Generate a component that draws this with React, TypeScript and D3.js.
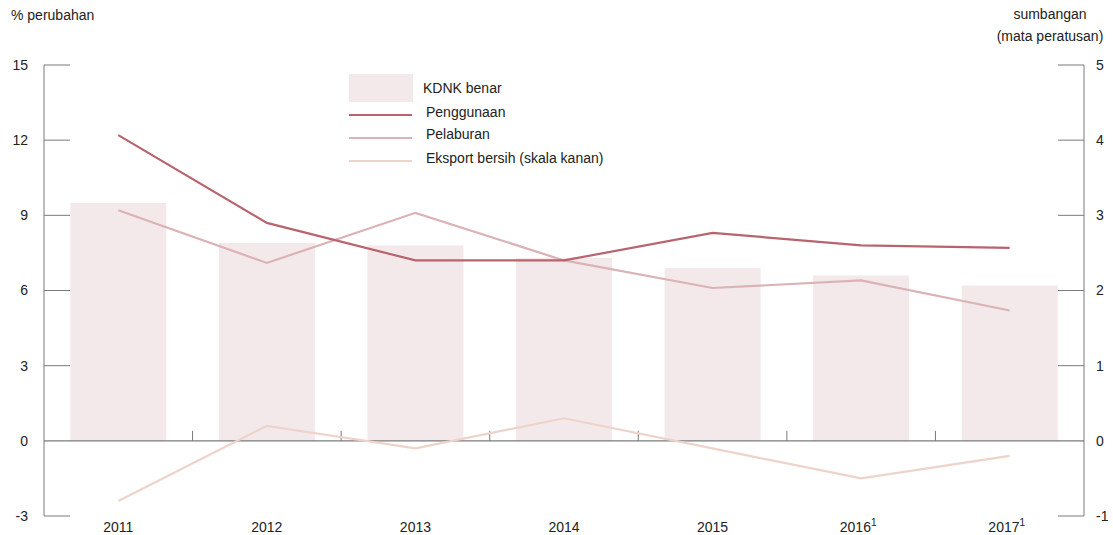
import React from "react";
import * as d3 from "d3";

const categories = ["2011", "2012", "2013", "2014", "2015", "2016", "2017"];
const categorySup = ["", "", "", "", "", "1", "1"];
const kdnk = [9.5, 7.9, 7.8, 7.3, 6.9, 6.6, 6.2];
const penggunaan = [12.2, 8.7, 7.2, 7.2, 8.3, 7.8, 7.7];
const pelaburan = [9.2, 7.1, 9.1, 7.2, 6.1, 6.4, 5.2];
const eksport = [-0.8, 0.2, -0.1, 0.3, -0.1, -0.5, -0.2];
const leftTicks = [-3, 0, 3, 6, 9, 12, 15];
const rightTicks = [-1, 0, 1, 2, 3, 4, 5];

const W = 1113;
const H = 535;
const X0 = 44;
const X1 = 1084;
const YT = 65;
const YB = 516;
const FONT = "'Liberation Sans Narrow', 'Arial Narrow', 'Liberation Sans', Arial, sans-serif";
const AXIS = "#7a7a7a";
const C_BAR = "#f4e9ea";
const C_PENG = "#b8646e";
const C_PEL = "#dbb2b5";
const C_EKS = "#eed3ca";

export default function App() {
  const x = d3.scaleBand<string>().domain(categories).range([X0, X1]).paddingInner(0.354).paddingOuter(0.177);
  const xb = d3.scaleBand<string>().domain(categories).range([X0, X1]);
  const yL = d3.scaleLinear().domain([-3, 15]).range([YB, YT]);
  const yR = d3.scaleLinear().domain([-1, 5]).range([YB, YT]);
  const cx = (c: string) => (xb(c) as number) + xb.bandwidth() / 2;

  const lineL = d3.line<number>().x((_, i) => cx(categories[i])).y((d) => yL(d));
  const lineR = d3.line<number>().x((_, i) => cx(categories[i])).y((d) => yR(d));

  const legendItems = [
    { label: "Penggunaan", color: C_PENG, y: 115, ty: 117 },
    { label: "Pelaburan", color: C_PEL, y: 138, ty: 139 },
    { label: "Eksport bersih (skala kanan)", color: C_EKS, y: 161, ty: 163 },
  ];

  return (
    <svg width={W} height={H} style={{ display: "block", position: "absolute", left: 0, top: 0 }} fontFamily={FONT} fontSize={14}>
      {categories.map((c, i) => (
        <rect key={c} x={cx(c) - 48} y={yL(kdnk[i])} width={96} height={yL(0) - yL(kdnk[i])} fill={C_BAR} />
      ))}
      {/* axes */}
      <line x1={X0} x2={X0} y1={YT} y2={YB} stroke={AXIS} strokeWidth={1} />
      <line x1={X1} x2={X1} y1={YT} y2={YB} stroke={AXIS} strokeWidth={1} />
      <line x1={X0} x2={X1} y1={yL(0)} y2={yL(0)} stroke={AXIS} strokeWidth={1.3} />
      {leftTicks.map((t) => (
        <g key={"l" + t}>
          {t !== 0 && <line x1={X0} x2={X0 + 26} y1={yL(t)} y2={yL(t)} stroke={AXIS} />}
          <text x={28} y={yL(t)} dy="0.35em" textAnchor="end" fill="#222">{t}</text>
        </g>
      ))}
      {rightTicks.map((t) => (
        <g key={"r" + t}>
          {t !== 0 && <line x1={X1 - 26} x2={X1} y1={yR(t)} y2={yR(t)} stroke={AXIS} />}
          <text x={1096} y={yR(t)} dy="0.35em" textAnchor="start" fill="#222">{t}</text>
        </g>
      ))}
      {categories.slice(1).map((c) => (
        <line key={"bt" + c} x1={xb(c) as number} x2={xb(c) as number} y1={yL(0)} y2={yL(0) - 10} stroke={AXIS} />
      ))}
      {categories.map((c, i) => (
        <text key={"xl" + c} x={cx(c) + (categorySup[i] ? -3 : 0)} y={532} textAnchor="middle" fill="#222">
          {c}
          {categorySup[i] && <tspan fontSize={10} dy={-6}>{categorySup[i]}</tspan>}
        </text>
      ))}
      {/* lines */}
      <path d={lineR(eksport) as string} fill="none" stroke={C_EKS} strokeWidth={2.2} />
      <path d={lineL(pelaburan) as string} fill="none" stroke={C_PEL} strokeWidth={2.2} />
      <path d={lineL(penggunaan) as string} fill="none" stroke={C_PENG} strokeWidth={2.2} />
      {/* titles */}
      <text x={11} y={20} fill="#222">% perubahan</text>
      <text x={1050} y={19} textAnchor="middle" fill="#222">sumbangan</text>
      <text x={1050} y={41} textAnchor="middle" fill="#222">(mata peratusan)</text>
      {/* legend */}
      <rect x={349} y={74} width={64} height={28} fill={C_BAR} />
      <text x={423} y={88} dy="0.35em" fill="#222">KDNK benar</text>
      {legendItems.map((l) => (
        <g key={l.label}>
          <line x1={349} x2={412} y1={l.y} y2={l.y} stroke={l.color} strokeWidth={2.2} />
          <text x={426} y={l.ty - 5} dy="0.35em" fill="#222">{l.label}</text>
        </g>
      ))}
    </svg>
  );
}
